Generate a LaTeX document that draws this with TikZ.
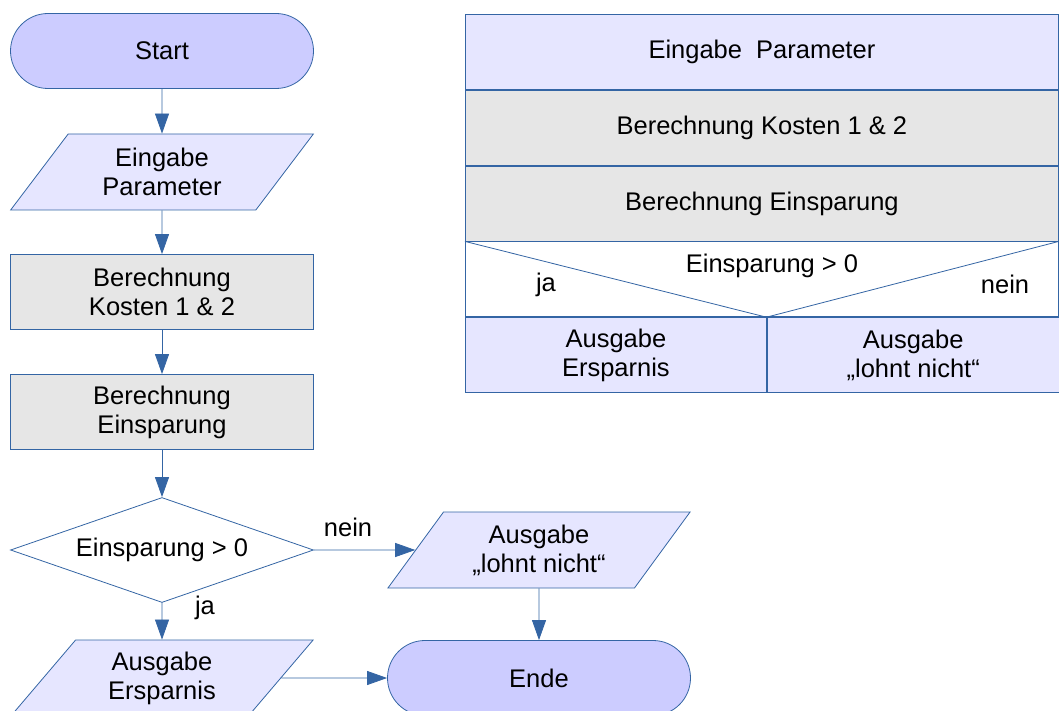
\documentclass[tikz,border=0pt]{standalone}
\usepackage{fontspec}
\setmainfont{Liberation Sans}
\usetikzlibrary{shapes.geometric,shapes.misc,arrows.meta,calc}
\definecolor{bline}{HTML}{3465A4}
\definecolor{term}{HTML}{CCCCFF}
\definecolor{iofill}{HTML}{E6E6FF}
\definecolor{proc}{HTML}{E6E6E6}
\begin{document}
\begin{tikzpicture}[x=1pt,y=-1pt, font=\fontsize{25.5}{29}\selectfont,
 base/.style={draw=bline, line width=0.8pt, align=center, inner sep=0pt},
 termbox/.style={base, fill=term, rounded rectangle, minimum width=303pt, minimum height=75pt},
 iobox/.style={base, fill=iofill, trapezium, trapezium left angle=52.6, trapezium right angle=127.4, trapezium stretches=true, minimum width=303pt, minimum height=76pt},
 procbox/.style={base, fill=proc, rectangle, minimum width=303pt, minimum height=75pt},
 decbox/.style={base, fill=white, diamond, aspect=2.886, minimum width=303pt, minimum height=105pt},
 conn/.style={draw=bline, line width=0.8pt, -{Triangle[width=14pt,length=20pt]}},
 nsrow/.style={base, rectangle, minimum width=593pt, minimum height=75pt, anchor=north west},
 nscell/.style={base, rectangle, minimum height=75pt, anchor=north west},
 lbl/.style={inner sep=0pt},
]
\clip (0,0) rectangle (1059,711);
% flowchart
\node[termbox] (start) at (162,51) {Start};
\node[iobox] (in) at (162,172) {Eingabe\\Parameter};
\node[procbox] (k) at (162,292) {Berechnung\\Kosten 1 \& 2};
\node[procbox] (e) at (162,412) {Berechnung\\Einsparung};
\node[decbox] (d) at (162,550) {Einsparung > 0};
\node[iobox] (ae) at (162,678) {Ausgabe\\Ersparnis};
\node[iobox] (al) at (539,550) {Ausgabe\\„lohnt nicht“};
\node[termbox] (ende) at (539,678) {Ende};
\draw[conn] (start) -- (in);
\draw[conn] (in) -- (k);
\draw[conn] (k) -- (e);
\draw[conn] (e) -- (d);
\draw[conn] (d.south) -- (ae.north);
\draw[conn] (d.east) -- (al.west);
\draw[conn] (al.south) -- (ende.north);
\draw[conn] (ae.east) -- (ende.west);
\node[lbl] (lnein) at (348,527) {nein};
\node[lbl] (lja) at (205,608) {ja};
% structogram
\node[nsrow, fill=iofill] (n1) at (465,14) {Eingabe\ \ Parameter};
\node[nsrow, fill=proc] (n2) at (n1.south west) {Berechnung Kosten 1 \& 2};
\node[nsrow, fill=proc] (n3) at (n2.south west) {Berechnung Einsparung};
\node[nsrow, fill=white] (n4) at (n3.south west) {};
\coordinate (tip) at ($(n4.south west)!0.5076!(n4.south east)$);
\draw[draw=bline, line width=0.8pt] (n4.north west) -- (tip) -- (n4.north east);
\node[lbl] (ncond) at (772,266) {Einsparung > 0};
\node[lbl] (nja) at (546,285) {ja};
\node[lbl] (nnein) at (1005,284) {nein};
\node[nscell, fill=iofill, minimum width=301pt] (n5a) at (n4.south west) {Ausgabe\\Ersparnis};
\node[nscell, fill=iofill, minimum width=292pt] (n5b) at (n5a.north east) {Ausgabe\\„lohnt nicht“};
\end{tikzpicture}
\end{document}
